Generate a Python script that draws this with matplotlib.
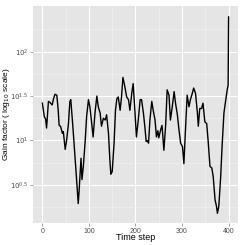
import numpy as np
import matplotlib
matplotlib.use("Agg")
import matplotlib.pyplot as plt

plt.rcParams['font.family'] = ['Liberation Sans', 'DejaVu Sans']

# Time steps and gain factor (as log10 values)
time_step = [0, 4, 7, 9, 13, 16, 21, 24, 27, 31, 34, 36, 39, 43, 45, 49, 52, 56,
             59, 61, 65, 68, 72, 77, 79, 83, 85, 88, 92, 95, 99, 102, 106, 109,
             113, 117, 120, 124, 127, 131, 135, 138, 142, 145, 147, 150, 154, 157,
             160, 163, 167, 170, 173, 177, 181, 185, 188, 192, 195, 199, 202, 206,
             210, 213, 217, 220, 223, 225, 228, 231, 235, 238, 242, 245, 248, 250,
             254, 257, 261, 265, 268, 272, 275, 279, 283, 286, 290, 293, 297, 301,
             304, 307, 311, 315, 318, 322, 325, 329, 333, 335, 338, 342, 345, 349,
             353, 356, 360, 364, 367, 371, 374, 376, 379, 383, 386, 390, 394, 397,
             399, 400]
gain_log10 = [1.42, 1.27, 1.24, 1.14, 1.44, 1.43, 1.40, 1.47, 1.52, 1.51, 1.34, 1.17,
              1.16, 1.08, 1.10, 0.90, 1.00, 1.19, 1.44, 1.46, 1.19, 0.97, 0.67, 0.29,
              0.44, 0.80, 0.56, 0.71, 1.00, 1.27, 1.46, 1.38, 1.19, 1.04, 1.31, 1.50,
              1.38, 1.31, 1.16, 1.25, 1.23, 1.29, 1.08, 0.78, 0.62, 0.65, 0.97, 1.34,
              1.47, 1.49, 1.34, 1.49, 1.71, 1.61, 1.49, 1.46, 1.34, 1.53, 1.64, 1.31,
              1.04, 1.23, 1.46, 1.46, 1.31, 1.16, 0.99, 1.00, 0.97, 1.23, 1.44, 1.34,
              1.23, 1.04, 1.11, 1.03, 1.12, 1.17, 0.89, 1.19, 1.57, 1.51, 1.23, 1.38,
              1.55, 1.42, 1.29, 1.14, 0.97, 0.93, 0.74, 1.08, 1.51, 1.38, 1.46, 1.53,
              1.59, 1.53, 1.31, 1.16, 1.36, 1.36, 1.42, 1.21, 1.19, 1.00, 0.71, 0.69,
              0.59, 0.33, 0.26, 0.18, 0.26, 0.59, 0.93, 1.31, 1.46, 1.57, 1.62, 2.39]

gain = 10 ** np.array(gain_log10)

fig = plt.figure(figsize=(2.45, 2.45), dpi=100)
ax = fig.add_axes([0.135, 0.09, 0.836, 0.886])
ax.set_facecolor('#E5E5E5')

ax.plot(time_step, gain, color='black', lw=1.0)

ax.set_yscale('log')
ax.set_xlim(-20, 420)
ax.set_ylim(10 ** 0.072, 10 ** 2.515)

ax.set_xticks([0, 100, 200, 300, 400])
ax.set_xticks([50, 150, 250, 350], minor=True)
ax.set_yticks([10 ** 0.5, 10, 10 ** 1.5, 100])
ax.set_yticklabels(['$10^{0.5}$', '$10^{1}$', '$10^{1.5}$', '$10^{2}$'])
ax.set_yticks([10 ** 0.25, 10 ** 0.75, 10 ** 1.25, 10 ** 1.75, 10 ** 2.25], minor=True)
ax.yaxis.set_minor_formatter(matplotlib.ticker.NullFormatter())

ax.grid(which='major', color='white', lw=0.8)
ax.grid(which='minor', color='#F2F2F2', lw=0.4)
ax.set_axisbelow(True)

for s in ax.spines.values():
    s.set_visible(False)

ax.tick_params(which='major', length=2, width=0.5, color='#7F7F7F',
               labelsize=5, labelcolor='#4D4D4D', pad=1.5)
ax.tick_params(which='minor', length=0)

ax.set_xlabel('Time step', fontsize=6.5)
ax.set_ylabel('Gain factor ( log$_{10}$ scale)', fontsize=6)
ax.xaxis.set_label_coords(0.5, -0.069)
ax.yaxis.set_label_coords(-0.132, 0.5)
ax.xaxis.label.set_va('center')
ax.yaxis.label.set_va('center')

fig.savefig('out.png', dpi=100)
